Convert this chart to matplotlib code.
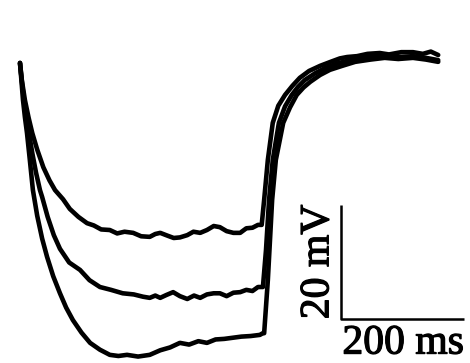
import matplotlib
matplotlib.use("Agg")
import matplotlib.pyplot as plt
import matplotlib.patheffects as pe

# Membrane potential traces (mV relative to holding) for three hyperpolarizing steps
t1 = [0, 3, 8, 14, 20, 28, 38, 48, 57, 70, 81, 95, 109, 120, 132, 146, 158, 170, 184, 197,
      211, 220, 228, 240, 250, 260, 272, 282, 293, 304, 315, 325, 336, 347, 358, 368, 378, 387, 393, 397,
      403, 411, 420, 431, 443, 455, 470, 488, 505, 520, 532, 548, 565, 585, 600, 620, 639, 655, 668, 680]
v1 = [0, -3.0, -6.5, -9.6, -12.3, -15.2, -18.3, -20.6, -22.3, -23.9, -25.6, -27.0, -28.1, -28.5, -29.2,
      -29.3, -29.9, -29.6, -29.8, -30.4, -30.5, -30.0, -29.8, -30.3, -30.7, -30.6, -30.2, -29.6, -29.8,
      -29.3, -28.6, -28.8, -29.5, -29.8, -29.8, -29.0, -28.9, -28.4, -28.4, -24.0, -17.0, -10.5, -7.5,
      -5.6, -4.0, -2.6, -1.4, -0.5, 0.2, 0.8, 1.05, 1.2, 1.6, 1.75, 1.5, 1.9, 1.9, 1.6, 2.0, 1.4]

t2 = [0, 3, 6.5, 10, 14.6, 20, 26, 32.5, 36, 45, 55, 65, 80, 97.6, 113, 130, 148, 167, 185, 200,
      211, 220, 228, 238, 249, 260, 272, 283, 293, 304, 315, 325, 336, 347, 358, 368, 378, 387, 395, 400,
      405, 411, 421, 431, 442, 452, 463, 480, 496, 515, 537, 560, 585, 610, 639, 660, 680]
v2 = [0, -3.2, -6.5, -9.3, -12.3, -15.8, -19.2, -22.3, -23.5, -27.0, -30.2, -32.6, -35.0, -36.3, -38.1,
      -39.3, -39.8, -40.4, -40.6, -41.0, -41.2, -40.8, -41.2, -40.7, -40.2, -40.9, -41.4, -40.8, -41.2,
      -40.6, -40.4, -40.4, -40.9, -40.3, -40.2, -39.8, -40.0, -39.3, -39.3, -32.8, -24.0, -17.0, -10.5,
      -7.6, -5.6, -4.2, -3.0, -1.8, -0.9, -0.1, 0.5, 0.9, 1.2, 1.0, 1.2, 0.9, 0.5]

t3 = [0, 2.5, 4.9, 8, 11.4, 16, 21, 28, 36, 44, 54, 65, 75, 86, 100, 114, 130, 146, 160, 174,
      192, 211, 228, 244, 260, 275, 290, 304, 318, 332, 346, 360, 375, 390, 395, 397, 403, 410, 416, 428,
      439, 450, 461, 472, 488, 504, 524, 545, 570, 593, 615, 639, 660, 680]
v3 = [0, -3.3, -6.5, -9.5, -12.3, -17.0, -22.3, -26.8, -30.8, -34.0, -37.4, -40.4, -42.9, -45.1, -47.3,
      -49.1, -50.3, -51.2, -51.4, -51.2, -51.5, -51.2, -50.4, -49.9, -49.1, -49.4, -48.8, -49.1, -48.5,
      -48.4, -48.2, -48.0, -47.9, -47.7, -47.4, -47.4, -38.1, -24.0, -17.0, -10.5, -7.8, -5.6, -4.3,
      -3.3, -2.1, -1.2, -0.5, 0.2, 0.6, 0.9, 0.7, 0.9, 0.6, 0.2]

# scale bar: 200 ms by 20 mV
bar_t0, bar_dt = 522, 200
bar_v0, bar_dv = -44.9, 20

fig = plt.figure(figsize=(4.7, 3.63), dpi=100)
ax = fig.add_axes([0, 0, 1, 1])
ax.set_xlim(-32.5, 731.7)
ax.set_ylim(-52.63, 11.05)
ax.axis("off")

for t, v in [(t1, v1), (t2, v2), (t3, v3)]:
    ax.plot(t, v, color="black", lw=3.3, solid_capstyle="round", solid_joinstyle="round")

ax.plot([bar_t0, bar_t0, bar_t0 + bar_dt], [bar_v0 + bar_dv, bar_v0, bar_v0],
        color="black", lw=1.8, solid_capstyle="butt")

# slightly heavier serif lettering
font = dict(family="Liberation Serif", size=30, color="black",
            path_effects=[pe.withStroke(linewidth=0.9, foreground="black")])
ax.text(bar_t0 - 6, bar_v0 + bar_dv / 2, "20 mV", rotation=90, ha="right", va="center", **font)
ax.text(bar_t0 + bar_dt / 2 + 1, bar_v0 - 0.9, "200 ms", ha="center", va="top", **font)

fig.savefig("out.png", dpi=100)
